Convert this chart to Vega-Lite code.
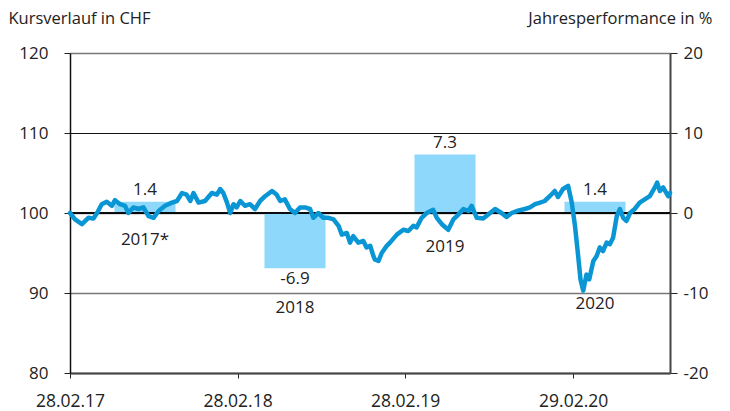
{
  "$schema": "https://vega.github.io/schema/vega-lite/v6.json",
  "width": 600,
  "height": 320,
  "autosize": {"type": "none"},
  "padding": {"left": 70, "top": 53, "right": 60, "bottom": 38},
  "background": "white",
  "config": {
    "view": {"stroke": null},
    "font": "Open Sans",
    "axis": {"labelFont": "Open Sans", "labelFontSize": 17, "labelColor": "#222", "titleFont": "Open Sans", "titleFontSize": 16.5, "titleFontWeight": "normal", "titleColor": "#222"},
    "text": {"font": "Open Sans", "fontSize": 17, "color": "#222"}
  },
  "datasets": {
    "bars": [
      {"jahr": "2017*", "perf": 1.4},
      {"jahr": "2018", "perf": -6.9},
      {"jahr": "2019", "perf": 7.3},
      {"jahr": "2020", "perf": 1.4}
    ],
    "kurs": [
      {"date": "2017-02-28", "kurs": 100.0},
      {"date": "2017-03-11", "kurs": 99.2},
      {"date": "2017-03-26", "kurs": 98.6},
      {"date": "2017-04-09", "kurs": 99.4},
      {"date": "2017-04-20", "kurs": 99.3},
      {"date": "2017-04-28", "kurs": 100.0},
      {"date": "2017-05-08", "kurs": 101.1},
      {"date": "2017-05-19", "kurs": 101.4},
      {"date": "2017-05-30", "kurs": 100.9},
      {"date": "2017-06-06", "kurs": 101.6},
      {"date": "2017-06-17", "kurs": 101.1},
      {"date": "2017-06-28", "kurs": 100.9},
      {"date": "2017-07-05", "kurs": 100.0},
      {"date": "2017-07-16", "kurs": 100.7},
      {"date": "2017-07-27", "kurs": 100.5},
      {"date": "2017-08-07", "kurs": 100.7},
      {"date": "2017-08-18", "kurs": 99.6},
      {"date": "2017-08-29", "kurs": 99.4},
      {"date": "2017-09-09", "kurs": 100.25},
      {"date": "2017-09-23", "kurs": 100.9},
      {"date": "2017-10-08", "kurs": 101.3},
      {"date": "2017-10-19", "kurs": 101.5},
      {"date": "2017-10-30", "kurs": 102.5},
      {"date": "2017-11-09", "kurs": 102.3},
      {"date": "2017-11-17", "kurs": 101.5},
      {"date": "2017-11-24", "kurs": 102.5},
      {"date": "2017-12-05", "kurs": 101.3},
      {"date": "2017-12-19", "kurs": 101.5},
      {"date": "2018-01-03", "kurs": 102.5},
      {"date": "2018-01-14", "kurs": 102.3},
      {"date": "2018-01-21", "kurs": 103.0},
      {"date": "2018-01-28", "kurs": 102.5},
      {"date": "2018-02-05", "kurs": 101.3},
      {"date": "2018-02-12", "kurs": 100.0},
      {"date": "2018-02-19", "kurs": 101.1},
      {"date": "2018-02-26", "kurs": 100.7},
      {"date": "2018-03-06", "kurs": 101.5},
      {"date": "2018-03-16", "kurs": 100.9},
      {"date": "2018-03-27", "kurs": 101.1},
      {"date": "2018-04-07", "kurs": 100.5},
      {"date": "2018-04-18", "kurs": 101.5},
      {"date": "2018-04-29", "kurs": 102.1},
      {"date": "2018-05-14", "kurs": 102.75},
      {"date": "2018-05-24", "kurs": 102.3},
      {"date": "2018-06-01", "kurs": 101.5},
      {"date": "2018-06-11", "kurs": 101.7},
      {"date": "2018-06-22", "kurs": 100.5},
      {"date": "2018-07-03", "kurs": 100.0},
      {"date": "2018-07-14", "kurs": 100.7},
      {"date": "2018-07-25", "kurs": 100.7},
      {"date": "2018-08-05", "kurs": 100.5},
      {"date": "2018-08-12", "kurs": 99.4},
      {"date": "2018-08-23", "kurs": 100.0},
      {"date": "2018-09-03", "kurs": 99.4},
      {"date": "2018-09-14", "kurs": 99.4},
      {"date": "2018-09-25", "kurs": 99.2},
      {"date": "2018-10-06", "kurs": 98.4},
      {"date": "2018-10-13", "kurs": 97.3},
      {"date": "2018-10-24", "kurs": 97.5},
      {"date": "2018-10-31", "kurs": 96.3},
      {"date": "2018-11-07", "kurs": 97.1},
      {"date": "2018-11-18", "kurs": 96.3},
      {"date": "2018-11-29", "kurs": 96.5},
      {"date": "2018-12-06", "kurs": 95.7},
      {"date": "2018-12-14", "kurs": 95.9},
      {"date": "2018-12-21", "kurs": 94.6},
      {"date": "2018-12-24", "kurs": 94.2},
      {"date": "2019-01-01", "kurs": 94.0},
      {"date": "2019-01-08", "kurs": 95.0},
      {"date": "2019-01-19", "kurs": 95.9},
      {"date": "2019-01-26", "kurs": 96.3},
      {"date": "2019-02-10", "kurs": 97.3},
      {"date": "2019-02-24", "kurs": 97.9},
      {"date": "2019-03-07", "kurs": 97.75},
      {"date": "2019-03-18", "kurs": 98.4},
      {"date": "2019-03-25", "kurs": 98.2},
      {"date": "2019-04-05", "kurs": 99.4},
      {"date": "2019-04-16", "kurs": 100.0},
      {"date": "2019-04-30", "kurs": 100.4},
      {"date": "2019-05-08", "kurs": 99.4},
      {"date": "2019-05-19", "kurs": 98.6},
      {"date": "2019-06-02", "kurs": 97.9},
      {"date": "2019-06-13", "kurs": 99.2},
      {"date": "2019-06-24", "kurs": 99.8},
      {"date": "2019-07-05", "kurs": 100.5},
      {"date": "2019-07-16", "kurs": 100.25},
      {"date": "2019-07-23", "kurs": 100.9},
      {"date": "2019-08-03", "kurs": 99.4},
      {"date": "2019-08-17", "kurs": 99.3},
      {"date": "2019-08-28", "kurs": 99.8},
      {"date": "2019-09-12", "kurs": 100.5},
      {"date": "2019-09-26", "kurs": 100.0},
      {"date": "2019-10-07", "kurs": 99.5},
      {"date": "2019-10-18", "kurs": 100.0},
      {"date": "2019-11-01", "kurs": 100.3},
      {"date": "2019-11-16", "kurs": 100.5},
      {"date": "2019-11-27", "kurs": 100.7},
      {"date": "2019-12-08", "kurs": 101.1},
      {"date": "2019-12-19", "kurs": 101.3},
      {"date": "2019-12-29", "kurs": 101.5},
      {"date": "2020-01-09", "kurs": 102.1},
      {"date": "2020-01-20", "kurs": 102.75},
      {"date": "2020-01-27", "kurs": 102.0},
      {"date": "2020-02-07", "kurs": 103.0},
      {"date": "2020-02-18", "kurs": 103.4},
      {"date": "2020-02-26", "kurs": 101.3},
      {"date": "2020-03-04", "kurs": 98.4},
      {"date": "2020-03-11", "kurs": 94.6},
      {"date": "2020-03-16", "kurs": 91.7},
      {"date": "2020-03-22", "kurs": 90.3},
      {"date": "2020-03-29", "kurs": 92.3},
      {"date": "2020-04-04", "kurs": 91.7},
      {"date": "2020-04-13", "kurs": 94.0},
      {"date": "2020-04-20", "kurs": 94.6},
      {"date": "2020-04-27", "kurs": 95.7},
      {"date": "2020-05-04", "kurs": 95.25},
      {"date": "2020-05-12", "kurs": 96.3},
      {"date": "2020-05-19", "kurs": 96.1},
      {"date": "2020-05-26", "kurs": 96.9},
      {"date": "2020-06-03", "kurs": 99.6},
      {"date": "2020-06-10", "kurs": 100.5},
      {"date": "2020-06-17", "kurs": 99.4},
      {"date": "2020-06-24", "kurs": 99.0},
      {"date": "2020-07-02", "kurs": 100.0},
      {"date": "2020-07-12", "kurs": 100.5},
      {"date": "2020-07-23", "kurs": 101.3},
      {"date": "2020-08-03", "kurs": 101.7},
      {"date": "2020-08-14", "kurs": 102.1},
      {"date": "2020-08-25", "kurs": 103.2},
      {"date": "2020-08-30", "kurs": 103.8},
      {"date": "2020-09-05", "kurs": 102.75},
      {"date": "2020-09-12", "kurs": 103.2},
      {"date": "2020-09-23", "kurs": 102.1},
      {"date": "2020-09-27", "kurs": 102.5}
    ]
  },
  "layer": [
    {
      "data": {"name": "bars"},
      "transform": [{"calculate": "replace(format(datum.perf, '.1f'), '\u2212', '-')", "as": "perfLabel"}],
      "layer": [
        {
          "mark": {"type": "bar", "color": "#8dd8fb"},
          "encoding": {
            "x": {"field": "jahr", "type": "nominal", "sort": null, "scale": {"domain": ["2017*", "2018", "2019", "2020"], "paddingInner": 0.593, "paddingOuter": 0.2965}, "axis": null},
            "y": {"field": "perf", "type": "quantitative", "scale": {"domain": [-20, 20], "nice": false, "zero": false},
              "axis": {"orient": "right", "values": [-20, -10, 0, 10, 20], "labelExpr": "replace(datum.label, '\u2212', '-')", "grid": false, "domainColor": "#444", "domainWidth": 2, "tickColor": "#222", "tickSize": 7, "labelPadding": 6, "title": "Jahresperformance in %", "titleAngle": 0, "titleAlign": "right", "titleBaseline": "middle", "titleX": 42, "titleY": -35}}
          }
        },
        {
          "mark": {"type": "rule", "color": "#000", "strokeWidth": 1.2},
          "encoding": {"y": {"datum": 0, "type": "quantitative"}}
        },
        {
          "transform": [{"filter": "datum.perf > 0"}],
          "mark": {"type": "text", "baseline": "middle", "dy": -12},
          "encoding": {
            "x": {"field": "jahr", "type": "nominal", "sort": null},
            "y": {"field": "perf", "type": "quantitative"},
            "text": {"field": "perfLabel"}
          }
        },
        {
          "transform": [{"filter": "datum.perf < 0"}],
          "mark": {"type": "text", "baseline": "middle", "dy": 11},
          "encoding": {
            "x": {"field": "jahr", "type": "nominal", "sort": null},
            "y": {"field": "perf", "type": "quantitative"},
            "text": {"field": "perfLabel"}
          }
        },
        {
          "transform": [{"filter": "datum.jahr == '2017*'"}],
          "mark": {"type": "text", "baseline": "middle"},
          "encoding": {
            "x": {"field": "jahr", "type": "nominal", "sort": null},
            "y": {"datum": -3.4, "type": "quantitative"},
            "text": {"field": "jahr"}
          }
        },
        {
          "transform": [{"filter": "datum.jahr == '2019'"}],
          "mark": {"type": "text", "baseline": "middle"},
          "encoding": {
            "x": {"field": "jahr", "type": "nominal", "sort": null},
            "y": {"datum": -4.3, "type": "quantitative"},
            "text": {"field": "jahr"}
          }
        },
        {
          "transform": [{"filter": "datum.jahr == '2018'"}],
          "mark": {"type": "text", "baseline": "middle"},
          "encoding": {
            "x": {"field": "jahr", "type": "nominal", "sort": null},
            "y": {"datum": -11.9, "type": "quantitative"},
            "text": {"field": "jahr"}
          }
        },
        {
          "transform": [{"filter": "datum.jahr == '2020'"}],
          "mark": {"type": "text", "baseline": "middle"},
          "encoding": {
            "x": {"field": "jahr", "type": "nominal", "sort": null},
            "y": {"datum": -11.4, "type": "quantitative"},
            "text": {"field": "jahr"}
          }
        }
      ]
    },
    {
      "data": {"name": "kurs"},
      "mark": {"type": "line", "color": "#0a96d4", "strokeWidth": 4.5, "strokeJoin": "round", "strokeCap": "round"},
      "encoding": {
        "x": {"field": "date", "type": "temporal",
          "scale": {"type": "utc", "domain": [{"year": 2017, "month": "feb", "date": 28, "utc": true}, {"year": 2020, "month": "sep", "date": 27, "utc": true}]},
          "axis": {"orient": "bottom", "values": [{"year": 2017, "month": "feb", "date": 28, "utc": true}, {"year": 2018, "month": "feb", "date": 28, "utc": true}, {"year": 2019, "month": "feb", "date": 28, "utc": true}, {"year": 2020, "month": "feb", "date": 29, "utc": true}],
            "labelExpr": "utcFormat(datum.value, '%d.%m.%y')", "labelFontSize": 17.5, "title": null, "grid": false, "domainColor": "#444", "domainWidth": 2, "tickColor": "#222", "tickSize": 5, "labelPadding": 14, "labelFlush": false}},
        "y": {"field": "kurs", "type": "quantitative", "scale": {"domain": [80, 120], "nice": false, "zero": false},
          "axis": {"orient": "left", "values": [80, 90, 100, 110, 120], "grid": true,
            "gridColor": {"condition": {"test": "datum.value === 110", "value": "#111"}, "value": "#777"},
            "gridWidth": {"condition": {"test": "datum.value === 110", "value": 1}, "value": 1.6},
            "domainColor": "#111", "domainWidth": 1.5, "tickColor": "#222", "tickSize": 6, "labelPadding": 16, "title": "Kursverlauf in CHF", "titleAngle": 0, "titleAlign": "left", "titleBaseline": "middle", "titleX": -62, "titleY": -35}}
      }
    }
  ],
  "resolve": {"scale": {"x": "independent", "y": "independent"}}
}
